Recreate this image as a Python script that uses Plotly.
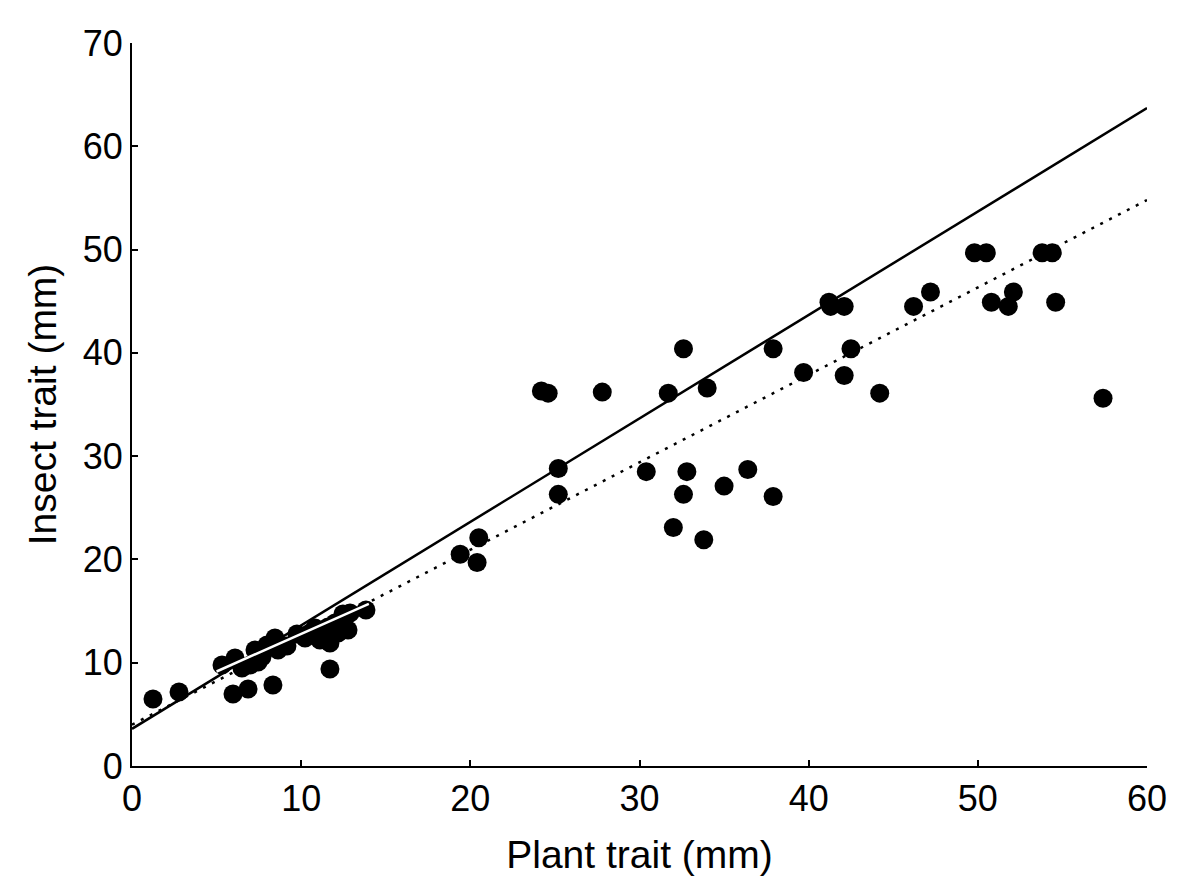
import plotly.graph_objects as go

# Observed points (Plant trait, Insect trait), mm
plant = [1.24, 2.78, 5.97, 6.86, 8.33, 11.70, 5.32, 6.09, 6.50, 6.98,
         7.45, 7.68, 7.27, 7.98, 8.45, 9.16, 9.75, 10.52, 11.11, 11.70,
         12.18, 12.77, 12.47, 12.89, 13.83, 12.00, 11.59, 10.23, 8.63, 10.82,
         19.4, 20.4, 20.5, 24.2, 24.6, 25.2, 25.2, 27.8, 30.4, 31.7,
         32.0, 32.6, 32.6, 32.8, 33.8, 34.0, 35.0, 36.4, 37.9, 37.9,
         39.7, 41.2, 41.3, 42.1, 42.1, 42.5, 44.2, 46.2, 47.2, 49.8,
         50.5, 50.8, 51.8, 52.1, 53.8, 54.4, 54.6, 57.4]
insect = [6.49, 7.16, 6.97, 7.45, 7.84, 9.39, 9.78, 10.46, 9.49, 9.78,
          10.07, 10.55, 11.23, 11.71, 12.39, 11.62, 12.78, 12.88, 12.20, 11.91,
          12.88, 13.17, 14.72, 14.81, 15.10, 13.84, 13.46, 12.39, 11.23, 13.36,
          20.5, 19.7, 22.1, 36.3, 36.1, 28.8, 26.3, 36.2, 28.5, 36.1,
          23.1, 40.4, 26.3, 28.5, 21.9, 36.6, 27.1, 28.7, 40.4, 26.1,
          38.1, 44.9, 44.5, 44.5, 37.8, 40.4, 36.1, 44.5, 45.9, 49.7,
          49.7, 44.9, 44.5, 45.9, 49.7, 49.7, 44.9, 35.6]

# Fitted lines (endpoints)
fit_x = [0, 60]
solid_y = [3.6, 63.7]
dotted_y = [4.0, 54.8]
sub_x = [5.0, 14.0]
sub_y = [9.15, 15.7]

x_ticks = [0, 10, 20, 30, 40, 50, 60]
y_ticks = [0, 10, 20, 30, 40, 50, 60, 70]

fig = go.Figure()
fig.add_trace(go.Scatter(x=fit_x, y=solid_y, mode="lines",
                         line=dict(color="black", width=2.5), hoverinfo="skip"))
fig.add_trace(go.Scatter(x=fit_x, y=dotted_y, mode="lines",
                         line=dict(color="black", width=2.5, dash="3px,7px"), hoverinfo="skip"))
fig.add_trace(go.Scatter(x=plant, y=insect, mode="markers",
                         marker=dict(color="black", size=19, line=dict(width=0))))
fig.add_trace(go.Scatter(x=sub_x, y=sub_y, mode="lines",
                         line=dict(color="white", width=2.5), hoverinfo="skip"))

font_family = "Liberation Sans, Arial, sans-serif"
fig.update_layout(
    width=1200, height=892,
    margin=dict(l=124, r=61, t=35, b=134),
    paper_bgcolor="white", plot_bgcolor="white",
    showlegend=False,
    font=dict(family=font_family, color="black", size=36),
    xaxis=dict(range=[0, 60], tickvals=x_ticks, ticks="inside", ticklen=6,
               tickwidth=2, tickcolor="black", showline=True, linecolor="black",
               linewidth=2, showgrid=False, zeroline=False, automargin=False,
               tickfont=dict(size=36),
               title=dict(text="Plant trait (mm)", font=dict(size=39), standoff=22)),
    yaxis=dict(range=[0, 70], tickvals=y_ticks, ticks="inside", ticklen=6,
               tickwidth=2, tickcolor="black", showline=True, linecolor="black",
               linewidth=2, showgrid=False, zeroline=False, automargin=False,
               tickfont=dict(size=36),
               title=dict(text="Insect trait (mm)", font=dict(size=39), standoff=14)),
)

fig.write_html("out.html")
